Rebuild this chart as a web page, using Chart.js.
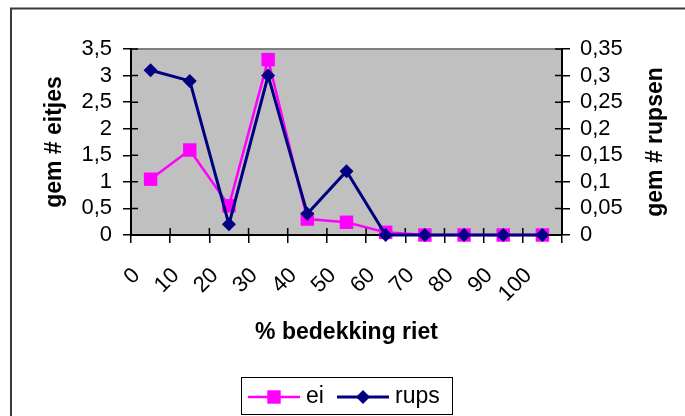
<!DOCTYPE html>
<html>
<head>
<meta charset="utf-8">
<script src="https://cdn.jsdelivr.net/npm/chart.js@4.4.0/dist/chart.umd.min.js"></script>
<style>
  html, body { margin: 0; padding: 0; background: #fff; overflow: hidden; }
  canvas { display: block; }
</style>
</head>
<body>
<canvas id="c" width="685" height="416"></canvas>
<script>
// Categories: percentage of reed cover
const categories = ['0', '10', '20', '30', '40', '50', '60', '70', '80', '90', '100'];
// Mean number of eggs (left axis) and caterpillars (right axis)
const eiValues   = [1.05, 1.6, 0.55, 3.3, 0.3, 0.24, 0.05, 0, 0, 0, 0];
const rupsValues = [0.31, 0.29, 0.02, 0.30, 0.04, 0.12, 0, 0, 0, 0, 0];
const seriesNames = ['ei', 'rups'];
const leftTickLabels  = ['0', '0,5', '1', '1,5', '2', '2,5', '3', '3,5'];
const rightTickLabels = ['0', '0,05', '0,1', '0,15', '0,2', '0,25', '0,3', '0,35'];
const xTitle  = '% bedekking riet';
const yTitle  = 'gem # eitjes';
const y1Title = 'gem # rupsen';

const FAMILY = '"Liberation Sans", Arial, sans-serif';
Chart.defaults.font.family = FAMILY;
Chart.defaults.color = '#000';

const TICK_FONT = { size: 22, lineHeight: 1.15 };
const TITLE_FONT = { size: 23, weight: 'bold', lineHeight: 1.15 };

// Background, frame, inner tick halves, right-hand title and legend
const decor = {
  id: 'decor',
  beforeDraw(chart) {
    const { ctx, chartArea: a } = chart;
    ctx.save();
    ctx.fillStyle = '#fff';
    ctx.fillRect(0, 0, chart.width, chart.height);
    ctx.strokeStyle = '#3a3a3a';
    ctx.lineWidth = 2;
    ctx.beginPath();
    ctx.moveTo(11, chart.height);
    ctx.lineTo(11, 8.5);
    ctx.lineTo(chart.width, 8.5);
    ctx.stroke();
    ctx.fillStyle = '#c0c0c0';
    ctx.fillRect(a.left, a.top, a.right - a.left, a.bottom - a.top);
    ctx.strokeStyle = '#808080';
    ctx.lineWidth = 2;
    ctx.beginPath();
    ctx.moveTo(a.left, a.top);
    ctx.lineTo(a.right, a.top);
    ctx.stroke();
    ctx.restore();
  },
  beforeDatasetsDraw(chart) {
    const { ctx, chartArea: a, scales } = chart;
    const len = 7;
    ctx.save();
    ctx.strokeStyle = '#000';
    ctx.lineWidth = 1.5;
    ctx.beginPath();
    const x = scales.x;
    const step = x.getPixelForValue(1) - x.getPixelForValue(0);
    for (let i = 0; i <= categories.length; i++) {
      const px = x.getPixelForValue(0) - step / 2 + i * step;
      ctx.moveTo(px, a.bottom);
      ctx.lineTo(px, a.bottom - len);
    }
    scales.y.ticks.forEach(t => {
      const py = scales.y.getPixelForValue(t.value);
      ctx.moveTo(a.left, py);
      ctx.lineTo(a.left + len, py);
    });
    scales.y1.ticks.forEach(t => {
      const py = scales.y1.getPixelForValue(t.value);
      ctx.moveTo(a.right, py);
      ctx.lineTo(a.right - len, py);
    });
    ctx.stroke();
    ctx.restore();
  },
  afterDraw(chart) {
    const { ctx, chartArea: a } = chart;
    ctx.save();
    // right axis title, reading bottom to top
    ctx.font = 'bold 23px ' + FAMILY;
    ctx.fillStyle = '#000';
    ctx.textAlign = 'center';
    ctx.textBaseline = 'middle';
    ctx.translate(656, (a.top + a.bottom) / 2);
    ctx.rotate(-Math.PI / 2);
    ctx.fillText(y1Title, 0, 0);
    ctx.restore();

    // legend box with line + marker samples
    ctx.save();
    ctx.strokeStyle = '#000';
    ctx.lineWidth = 1;
    ctx.strokeRect(241.5, 377.5, 211, 37);
    const cy = 397;
    const starts = [248, 337];
    chart.data.datasets.forEach((ds, i) => {
      const lx = starts[i];
      ctx.strokeStyle = ds.borderColor;
      ctx.lineWidth = ds.borderWidth;
      ctx.beginPath();
      ctx.moveTo(lx, cy);
      ctx.lineTo(lx + 52, cy);
      ctx.stroke();
      ctx.fillStyle = ds.backgroundColor;
      Chart.helpers.drawPoint(ctx, {
        pointStyle: ds.pointStyle, rotation: 0, radius: ds.pointRadius, borderWidth: 0
      }, lx + 26, cy);
      ctx.fillStyle = '#000';
      ctx.font = '23px ' + FAMILY;
      ctx.textAlign = 'left';
      ctx.textBaseline = 'middle';
      ctx.fillText(ds.label, lx + 58, cy);
    });
    ctx.restore();
  }
};

new Chart(document.getElementById('c'), {
  type: 'line',
  data: {
    labels: categories,
    datasets: [
      {
        label: seriesNames[0],
        data: eiValues,
        yAxisID: 'y',
        borderColor: '#ff00ff',
        backgroundColor: '#ff00ff',
        borderWidth: 2.5,
        pointStyle: 'rect',
        pointRadius: 9.5,
        pointBorderWidth: 0,
        tension: 0,
        clip: false,
        order: 1
      },
      {
        label: seriesNames[1],
        data: rupsValues,
        yAxisID: 'y1',
        borderColor: '#000080',
        backgroundColor: '#000080',
        borderWidth: 3,
        pointStyle: 'rectRot',
        pointRadius: 7,
        pointBorderWidth: 0,
        tension: 0,
        clip: false,
        order: 0
      }
    ]
  },
  options: {
    responsive: false,
    animation: false,
    events: [],
    layout: { padding: { top: 49, left: 0, right: 0, bottom: 0 } },
    plugins: { legend: { display: false }, tooltip: { enabled: false } },
    scales: {
      x: {
        type: 'category',
        offset: true,
        grid: { offset: true, drawOnChartArea: false, drawTicks: true, tickLength: 8, color: '#000', lineWidth: 1.5 },
        border: { display: true, color: '#000', width: 2 },
        ticks: { autoSkip: false, minRotation: 45, maxRotation: 45, padding: 20, labelOffset: -14, font: TICK_FONT, color: '#000' },
        title: { display: true, text: xTitle, font: TITLE_FONT, color: '#000', padding: { top: 0, bottom: 70 } },
        afterFit(s) { s.height = 181; }
      },
      y: {
        position: 'left',
        min: 0, max: 3.5,
        grid: { drawOnChartArea: false, drawTicks: true, tickLength: 8, color: '#000', lineWidth: 1.5 },
        border: { display: true, color: '#000', width: 2 },
        ticks: { autoSkip: false, stepSize: 0.5, padding: 11, font: TICK_FONT, color: '#000', callback: (v, i) => leftTickLabels[i] },
        title: { display: true, text: yTitle, font: TITLE_FONT, color: '#000', padding: { top: 41, bottom: 0 } },
        afterFit(s) { s.width = 131; }
      },
      y1: {
        position: 'right',
        min: 0, max: 0.35,
        grid: { drawOnChartArea: false, drawTicks: true, tickLength: 8, color: '#000', lineWidth: 1.5 },
        border: { display: true, color: '#000', width: 2 },
        ticks: { autoSkip: false, stepSize: 0.05, padding: 10, font: TICK_FONT, color: '#000', callback: (v, i) => rightTickLabels[i] },
        title: { display: false },
        afterFit(s) { s.width = 123; }
      }
    }
  },
  plugins: [decor]
});
</script>
</body>
</html>
